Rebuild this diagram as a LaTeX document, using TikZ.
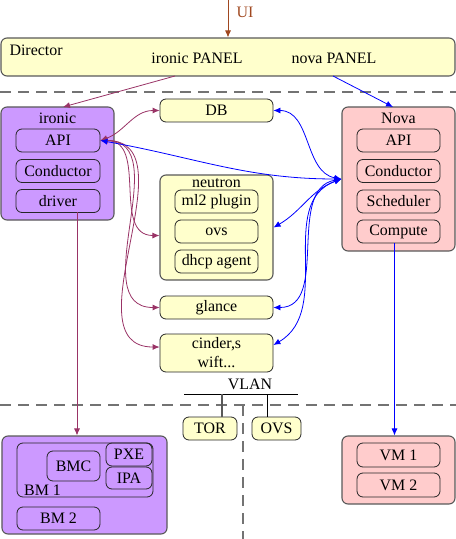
\documentclass[tikz,border=0pt]{standalone}
\usepackage{fontspec}
\setmainfont{Liberation Serif}
\usetikzlibrary{arrows.meta,calc}

\definecolor{boxyellow}{RGB}{255,255,204}
\definecolor{boxpurple}{RGB}{204,153,255}
\definecolor{boxpink}{RGB}{255,204,204}
\definecolor{linkpurple}{RGB}{153,51,102}
\definecolor{uibrown}{RGB}{160,72,32}

\begin{document}
\begin{tikzpicture}[x=1bp,y=-1bp,
  font=\fontsize{16}{17}\selectfont,
  box/.style={draw=black!85,line width=0.8bp,rounded corners=6bp,inner sep=0pt,align=center},
  outer/.style={box,draw=black!65,line width=1.1bp},
  sep/.style={draw=black!55,line width=1.4bp,dash pattern=on 11bp off 7bp},
  tip/.style={-{Latex[length=7bp,width=6bp]}},
  ilink/.style={linkpurple,line width=0.8bp,{Latex[length=7bp,width=6bp]}-{Latex[length=7bp,width=6bp]}},
  nlink/.style={blue,line width=0.8bp,{Latex[length=7bp,width=6bp]}-{Latex[length=7bp,width=6bp]}}]
  \useasboundingbox (0,0) rectangle (456,539);

  % director
  \node[outer,fill=boxyellow,minimum width=454bp,minimum height=38bp] (director) at (228,57) {};
  \node[anchor=west] (dirlabel) at (6,50) {Director};
  \node (ipanel) at (197,58) {ironic PANEL};
  \node (npanel) at (334,58) {nova PANEL};
  \coordinate (ui) at (228,0);
  \coordinate (ipout) at (175,76);
  \coordinate (npout) at (333,76);
  \draw[uibrown,line width=0.8bp,tip] (ui) -- (director.north);
  \node[uibrown] (uilabel) at (245,12) {UI};

  \draw[sep] (0,92) -- (456,92);
  \draw[sep] (0,405) -- (456,405);
  \draw[sep] (243,405) -- (243,539);

  % ironic
  \node[outer,fill=boxpurple,minimum width=113bp,minimum height=113bp] (ironic) at (57.5,163.5) {};
  \node (ironiclabel) at (57.5,118) {ironic};
  \node[box,minimum width=84bp,minimum height=23bp] (iapi) at (58,140.5) {API};
  \node[box,minimum width=84bp,minimum height=23bp] (icond) at (58,171) {Conductor};
  \node[box,minimum width=84bp,minimum height=23bp] (idrv) at (58,201) {driver};

  % services
  \node[box,fill=boxyellow,minimum width=113bp,minimum height=23bp] (db) at (216.5,110.5) {DB};
  \node[outer,fill=boxyellow,minimum width=113bp,minimum height=105bp] (neutron) at (216.5,227.5) {};
  \node (neutronlabel) at (216.5,183) {neutron};
  \node[box,minimum width=83bp,minimum height=23bp] (ml2) at (216.5,201.5) {ml2 plugin};
  \node[box,minimum width=83bp,minimum height=23bp] (novs) at (216.5,231.5) {ovs};
  \node[box,minimum width=83bp,minimum height=23bp] (dhcp) at (216.5,261.5) {dhcp agent};
  \node[box,fill=boxyellow,minimum width=113bp,minimum height=23bp] (glance) at (216.5,307.5) {glance};
  \node[box,fill=boxyellow,minimum width=113bp,minimum height=38bp,font=\fontsize{16}{19}\selectfont] (cinder) at (216.5,353) {cinder,s\\wift...};

  % nova
  \node[outer,fill=boxpink,minimum width=113bp,minimum height=144bp] (nova) at (398.5,179) {};
  \node (novalabel) at (398.5,118) {Nova};
  \node[box,minimum width=83bp,minimum height=23bp] (napi) at (398.5,140.5) {API};
  \node[box,minimum width=83bp,minimum height=23bp] (ncond) at (398.5,171) {Conductor};
  \node[box,minimum width=83bp,minimum height=23bp] (nsched) at (398.5,201.5) {Scheduler};
  \node[box,minimum width=83bp,minimum height=23bp] (ncomp) at (398.5,231.5) {Compute};

  \draw[linkpurple,line width=0.8bp,tip] (ipout) -- (63,107);
  \draw[blue,line width=0.8bp,tip] (npout) -- (393,107);

  % links
  \draw[ilink] (iapi.east) to[out=20,in=180] (db.west);
  \draw[ilink] (iapi.east) to[out=0,in=180,looseness=1.1] (neutron.188);
  \draw[ilink] (iapi.east) to[out=0,in=180,looseness=1.1] (glance.west);
  \draw[ilink] (iapi.east) to[out=0,in=180,looseness=1.1] (cinder.174);
  \draw[nlink] (nova.west) to[out=180,in=-10] (iapi.east);
  \draw[nlink] (nova.west) to[out=170,in=0] (db.east);
  \draw[nlink] (nova.west) to[out=200,in=30] (neutron.east);
  \draw[nlink] (nova.west) to[out=190,in=0] (glance.east);
  \draw[nlink] (nova.west) to[out=200,in=30] (cinder.8);

  % vlan
  \node (vlan) at (250,384) {VLAN};
  \draw[line width=0.8bp] (184,394) -- (298,394);
  \node[box,fill=boxyellow,minimum width=54bp,minimum height=23bp] (tor) at (210,428.5) {TOR};
  \node[box,fill=boxyellow,minimum width=49bp,minimum height=23bp] (vovs) at (276.5,428.5) {OVS};
  \draw[black!65,line width=1.1bp] (222,394) -- (222,417);
  \draw[line width=0.8bp] (267,394) -- (267,417);

  % bare metal
  \node[outer,fill=boxpurple,minimum width=165bp,minimum height=98bp] (bmhost) at (84.5,485) {};
  \node[box,minimum width=136bp,minimum height=54bp] (bm1) at (85,470) {};
  \node[anchor=south west,inner sep=0pt] (bm1label) at (24,496) {BM 1};
  \node[box,minimum width=53bp,minimum height=30bp] (bmc) at (73.5,466) {BMC};
  \node[box,minimum width=46bp,minimum height=23bp] (pxe) at (129,454.5) {PXE};
  \node[box,minimum width=46bp,minimum height=22bp] (ipa) at (129,478) {IPA};
  \node[box,minimum width=83bp,minimum height=23bp] (bm2) at (58.5,518.5) {BM 2};
  \coordinate (drvout) at (77,212);
  \draw[linkpurple,line width=0.8bp,tip] (drvout) -- (drvout |- bmhost.north);

  % vms
  \node[outer,fill=boxpink,minimum width=113bp,minimum height=68bp] (vmhost) at (398.5,470) {};
  \node[box,minimum width=83bp,minimum height=24bp] (vm1) at (398.5,455) {VM 1};
  \node[box,minimum width=83bp,minimum height=24bp] (vm2) at (398.5,485) {VM 2};
  \coordinate (compout) at (394.5,243);
  \draw[blue,line width=0.8bp,tip] (compout) -- (compout |- vmhost.north);
\end{tikzpicture}
\end{document}
